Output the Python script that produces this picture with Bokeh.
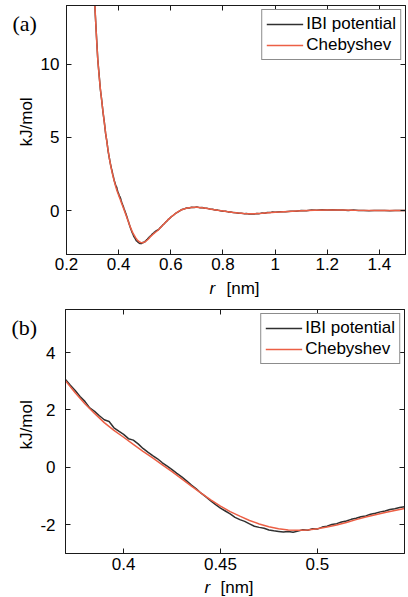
import math

from bokeh.core.properties import value
from bokeh.embed import file_html
from bokeh.layouts import column, row
from bokeh.models import (ColumnDataSource, FixedTicker, Legend, LegendItem,
                          LinearAxis, Range1d)
from bokeh.plotting import figure
from bokeh.resources import INLINE

# ---------------------------------------------------------------------------
# Data: pair potential of the coarse-grained model, r in nm, U in kJ/mol
# ---------------------------------------------------------------------------

# Chebyshev fit (smooth)
r_cheb = [
    0.300, 0.305, 0.310, 0.315, 0.320, 0.325, 0.330, 0.335, 0.340, 0.345,
    0.350, 0.355, 0.360, 0.365, 0.370, 0.375, 0.380, 0.385, 0.390, 0.395,
    0.400, 0.405, 0.410, 0.415, 0.420, 0.425, 0.430, 0.435, 0.440, 0.445,
    0.450, 0.455, 0.460, 0.465, 0.470, 0.475, 0.480, 0.485, 0.490, 0.495,
    0.500, 0.505, 0.510, 0.515, 0.520, 0.525, 0.530, 0.535, 0.540, 0.545,
    0.550,
    0.56, 0.57, 0.58, 0.59, 0.60, 0.61, 0.62, 0.63, 0.64, 0.65,
    0.66, 0.67, 0.68, 0.69, 0.70, 0.71, 0.72,
    0.74, 0.76, 0.78, 0.80, 0.82, 0.84, 0.86, 0.88, 0.90, 0.92,
    0.95, 1.00, 1.05, 1.10, 1.15, 1.20, 1.25, 1.30, 1.40, 1.50,
]
u_cheb = [
    17.6, 15.5, 13.6, 11.8, 10.3, 9.2, 8.3, 7.5, 6.75, 6.0,
    5.3, 4.65, 4.05, 3.5, 3.02, 2.6, 2.22, 1.88, 1.56, 1.29,
    1.05, 0.80, 0.56, 0.33, 0.09, -0.15, -0.40, -0.65, -0.90, -1.13,
    -1.35, -1.54, -1.70, -1.85, -1.97, -2.07, -2.14, -2.18, -2.19, -2.18,
    -2.14, -2.08, -2.01, -1.92, -1.82, -1.73, -1.65, -1.57, -1.50, -1.43,
    -1.36,
    -1.17, -0.98, -0.80, -0.62, -0.46, -0.31, -0.18, -0.06, 0.04, 0.11,
    0.16, 0.19, 0.21, 0.22, 0.22, 0.21, 0.19,
    0.14, 0.08, 0.02, -0.03, -0.08, -0.13, -0.17, -0.20, -0.22, -0.22,
    -0.19, -0.11, -0.06, -0.01, 0.02, 0.04, 0.04, 0.02, 0.00, 0.00,
]

# Tabulated IBI potential (noisy)
r_ibi = [
    0.300, 0.305, 0.310, 0.315, 0.320, 0.325, 0.330, 0.335, 0.340, 0.345,
    0.350, 0.355, 0.360, 0.365,
    0.3675, 0.3700, 0.3725, 0.3750, 0.3775, 0.3800, 0.3825, 0.3850, 0.3875, 0.3900,
    0.3925, 0.3950, 0.3975, 0.4000, 0.4025, 0.4050, 0.4075, 0.4100, 0.4125, 0.4150,
    0.4175, 0.4200, 0.4225, 0.4250, 0.4275, 0.4300, 0.4325, 0.4350, 0.4375, 0.4400,
    0.4425, 0.4450, 0.4475, 0.4500, 0.4525, 0.4550, 0.4575, 0.4600, 0.4625, 0.4650,
    0.4675, 0.4700, 0.4725, 0.4750, 0.4775, 0.4800, 0.4825, 0.4850, 0.4875, 0.4900,
    0.4925, 0.4950, 0.4975, 0.5000, 0.5025, 0.5050, 0.5075, 0.5100, 0.5125, 0.5150,
    0.5175, 0.5200, 0.5225, 0.5250, 0.5275, 0.5300, 0.5325, 0.5350, 0.5375, 0.5400,
    0.5425, 0.5450,
    0.550, 0.555, 0.560, 0.565, 0.570, 0.575, 0.580, 0.585, 0.590, 0.595,
    0.600,
    0.61, 0.62, 0.63, 0.64, 0.65, 0.66, 0.67, 0.68, 0.69, 0.70,
    0.71, 0.72, 0.73, 0.74, 0.75, 0.76, 0.77, 0.78, 0.79, 0.80,
    0.81, 0.82, 0.83, 0.84, 0.85, 0.86, 0.87, 0.88, 0.89, 0.90,
    0.91, 0.92, 0.93, 0.94, 0.95, 0.96, 0.97, 0.98, 0.99, 1.00,
    1.02, 1.04, 1.06, 1.08, 1.10, 1.12, 1.14, 1.16, 1.18, 1.20,
    1.22, 1.24, 1.26, 1.28, 1.30, 1.32, 1.34, 1.36, 1.38, 1.40,
    1.42, 1.44, 1.46, 1.48, 1.50,
]
u_ibi = [
    17.7, 15.6, 13.5, 11.9, 10.3, 9.3, 8.25, 7.55, 6.7, 6.05,
    5.25, 4.7, 4.0, 3.52,
    3.27, 3.06, 2.86, 2.68, 2.47, 2.30, 2.07, 1.95, 1.80, 1.66,
    1.60, 1.38, 1.26, 1.15, 1.00, 0.95, 0.82, 0.66, 0.53, 0.41,
    0.30, 0.16, 0.04, -0.08, -0.21, -0.33, -0.47, -0.62, -0.75, -0.90,
    -1.03, -1.17, -1.30, -1.42, -1.52, -1.62, -1.74, -1.82, -1.88, -1.97,
    -2.05, -2.09, -2.12, -2.18, -2.21, -2.23, -2.25, -2.23, -2.26, -2.22,
    -2.17, -2.19, -2.14, -2.15, -2.08, -2.05, -1.99, -1.96, -1.90, -1.87,
    -1.81, -1.77, -1.72, -1.69, -1.63, -1.60, -1.55, -1.52, -1.47, -1.44,
    -1.40, -1.37,
    -1.33, -1.26, -1.16, -1.08, -0.97, -0.90, -0.79, -0.72, -0.61, -0.55,
    -0.45,
    -0.32, -0.17, -0.07, 0.05, 0.10, 0.17, 0.18, 0.23, 0.21, 0.24,
    0.20, 0.21, 0.16, 0.15, 0.10, 0.09, 0.04, 0.03, -0.01, -0.04,
    -0.05, -0.09, -0.10, -0.14, -0.15, -0.18, -0.18, -0.21, -0.20, -0.23,
    -0.21, -0.23, -0.20, -0.21, -0.17, -0.18, -0.13, -0.14, -0.10, -0.12,
    -0.08, -0.08, -0.04, -0.04, 0.00, -0.01, 0.03, 0.02, 0.05, 0.03,
    0.05, 0.03, 0.04, 0.01, 0.03, 0.00, 0.01, -0.01, 0.01, 0.00,
    0.01, -0.01, 0.00, 0.01, 0.00,
]

# Axis ticks
x_ticks_a = [0.2, 0.4, 0.6, 0.8, 1.0, 1.2, 1.4]
x_tick_labels_a = ["0.2", "0.4", "0.6", "0.8", "1", "1.2", "1.4"]
y_ticks_a = [0, 5, 10]
y_tick_labels_a = ["0", "5", "10"]

x_ticks_b = [0.40, 0.45, 0.50]
x_tick_labels_b = ["0.4", "0.45", "0.5"]
y_ticks_b = [-2, 0, 2, 4]
y_tick_labels_b = ["-2", "0", "2", "4"]

# ---------------------------------------------------------------------------
# Styling
# ---------------------------------------------------------------------------
SANS = "Liberation Sans"
SERIF = "Liberation Serif"
INK = "#1a1a1a"
IBI_COLOR = "#303030"
CHEB_COLOR = "#ec5f45"
FONT_PX = "17px"
LINE_W = 1.5

src_ibi = ColumnDataSource(dict(r=r_ibi, u=u_ibi))
src_cheb = ColumnDataSource(dict(r=r_cheb, u=u_cheb))


def make_axis(ticks, labels, standoff, show_labels):
    ax = LinearAxis(
        ticker=FixedTicker(ticks=ticks),
        major_tick_in=5, major_tick_out=0,
        minor_tick_line_color=None,
        axis_line_color=INK, axis_line_width=1,
        major_tick_line_color=INK, major_tick_line_width=1,
        major_label_text_font=SANS,
    )
    if show_labels:
        ax.major_label_overrides = dict(zip(ticks, labels))
        ax.major_label_text_font_size = FONT_PX
        ax.major_label_text_color = "#000000"
        ax.major_label_standoff = standoff
    else:
        # mirrored tick marks only: labels are not painted at all
        ax.major_label_text_font_size = "0px"
        ax.major_label_text_color = None
        ax.major_label_text_alpha = 0
        ax.major_label_standoff = 0
    return ax


def text_strip(width, height):
    """Blank figure whose frame fills the canvas; 1 data unit = 1 px."""
    s = figure(
        width=width, height=height,
        x_range=Range1d(0, width), y_range=Range1d(0, height),
        x_axis_type=None, y_axis_type=None,
        output_backend="svg", toolbar_location=None,
        min_border=0, outline_line_color=None,
        background_fill_color="white", border_fill_color="white",
    )
    s.grid.visible = False
    return s


def plot_panel(width, height, left, right, top, bottom, x_span, y_span,
               xticks, xlabels, yticks, ylabels, x_standoff, y_standoff):
    p = figure(
        width=width, height=height,
        x_range=Range1d(*x_span), y_range=Range1d(*y_span),
        x_axis_type=None, y_axis_type=None,
        output_backend="svg", toolbar_location=None,
        min_border_left=left, min_border_right=right,
        min_border_top=top, min_border_bottom=bottom,
        background_fill_color="white", border_fill_color="white",
        outline_line_color=INK, outline_line_width=1,
    )
    p.grid.visible = False

    p.add_layout(make_axis(xticks, xlabels, x_standoff, True), "below")
    p.add_layout(make_axis(yticks, ylabels, y_standoff, True), "left")
    p.add_layout(make_axis(xticks, xlabels, 0, False), "above")
    p.add_layout(make_axis(yticks, ylabels, 0, False), "right")

    l_ibi = p.line("r", "u", source=src_ibi, line_color=IBI_COLOR, line_width=LINE_W)
    l_cheb = p.line("r", "u", source=src_cheb, line_color=CHEB_COLOR, line_width=LINE_W)

    legend = Legend(
        items=[LegendItem(label="IBI potential", renderers=[l_ibi]),
               LegendItem(label="Chebyshev", renderers=[l_cheb])],
        location="top_right", margin=4, padding=4, spacing=1,
        glyph_width=37, glyph_height=20, label_height=20, label_standoff=3,
        label_text_font=SANS, label_text_font_size=FONT_PX,
        label_text_color="#000000",
        border_line_color=INK, border_line_width=1,
        background_fill_color="white", background_fill_alpha=1.0,
    )
    p.add_layout(legend)
    return p


def left_labels(width, height, tag, tag_x, tag_y, ylab_y):
    s = text_strip(width, height)
    s.text(x=[tag_x], y=[tag_y], text=[tag], text_font=value(SERIF),
           text_font_size=value("22px"), text_color="#000000",
           text_baseline="middle", text_align="left")
    s.text(x=[26], y=[ylab_y], text=["kJ/mol"], angle=math.pi / 2,
           text_font=value(SANS), text_font_size=value(FONT_PX),
           text_color="#000000", text_baseline="middle", text_align="center")
    return s


def bottom_label(width, height, r_x, unit_x, y):
    s = text_strip(width, height)
    s.text(x=[r_x], y=[y], text=["r"], text_font=value(SANS),
           text_font_style="italic", text_font_size=value(FONT_PX),
           text_color="#000000", text_baseline="middle", text_align="left")
    s.text(x=[unit_x], y=[y], text=["[nm]"], text_font=value(SANS),
           text_font_size=value(FONT_PX), text_color="#000000",
           text_baseline="middle", text_align="left")
    return s


# Panel (a): full range
main_a = plot_panel(371, 277, 26, 3, 5, 23, (0.2, 1.5), (-3, 14),
                    x_ticks_a, x_tick_labels_a, y_ticks_a, y_tick_labels_a,
                    x_standoff=3, y_standoff=7)
side_a = left_labels(37, 277, "(a)", 12, 257, 147.5)
foot_a = bottom_label(408, 23, 209, 226, 12.5)
panel_a = column(row(side_a, main_a, spacing=0), foot_a, spacing=0)

# Panel (b): close-up of the well
main_b = plot_panel(371, 277, 26, 4, 9, 24, (0.37, 0.545), (-3, 5.5),
                    x_ticks_b, x_tick_labels_b, y_ticks_b, y_tick_labels_b,
                    x_standoff=4, y_standoff=10)
side_b = left_labels(37, 277, "(b)", 11, 257, 146)
foot_b = bottom_label(408, 20, 204, 220, 10)
panel_b = column(row(side_b, main_b, spacing=0), foot_b, spacing=0)

layout = column(panel_a, panel_b, spacing=0)

with open("out.html", "w") as f:
    f.write(file_html(layout, INLINE))
